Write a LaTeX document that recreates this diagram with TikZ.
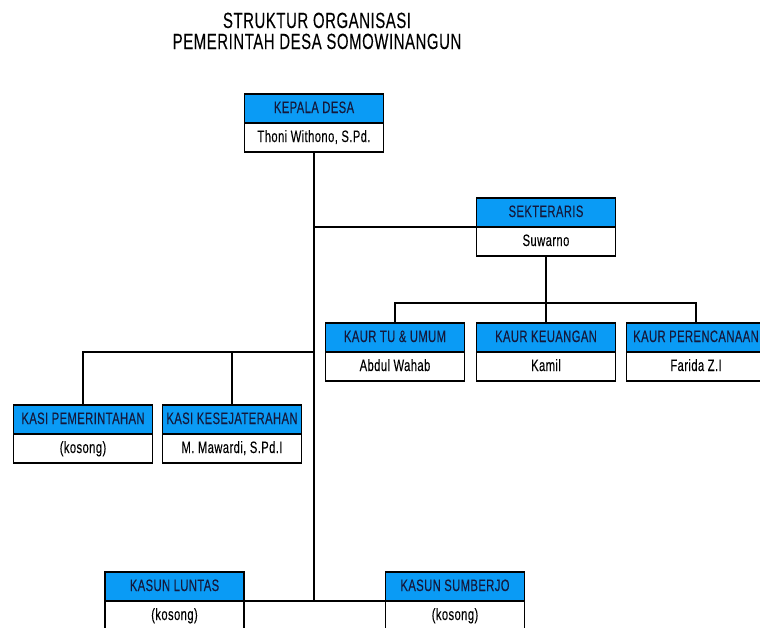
\documentclass[tikz,border=0pt]{standalone}
\usepackage{fontspec}
\setmainfont{Liberation Sans}[FakeStretch=0.68, LetterSpace=2.5, FakeBold=0.12]
\definecolor{hdr}{RGB}{10,155,245}
\definecolor{hdrtext}{RGB}{20,25,60}
\tikzset{
 hbox/.style={draw=black, line width=1.8pt, fill=hdr, minimum width=139pt, minimum height=29pt,
   inner sep=0pt, outer sep=0pt, text height=12pt, text depth=3pt,
   font=\fontsize{16.5}{18}\selectfont, text=hdrtext},
 bbox/.style={hbox, fill=white, text=black},
 conn/.style={line width=1.8pt, draw=black},
 ttl/.style={font=\fontsize{22}{26}\selectfont, anchor=base}
}
\newcommand\orgunit[5]{%
 \node[hbox] (#1-h) at (#2, #3+14.5) {#4};
 \node[bbox, anchor=north] (#1-b) at (#1-h.south) {#5};}
\begin{document}
\begin{tikzpicture}[x=1pt,y=-1pt]
\useasboundingbox (0,0) rectangle (760,627);
\clip (0,0) rectangle (760,627);
\node[ttl] (t1) at (317,28) {STRUKTUR ORGANISASI};
\node[ttl] (t2) at (317,49) {PEMERINTAH DESA SOMOWINANGUN};
\orgunit{kep}{314}{94}{KEPALA DESA}{Thoni Withono, S.Pd.}
\orgunit{sek}{546}{198}{SEKTERARIS}{Suwarno}
\orgunit{tu}{395}{323}{KAUR TU \& UMUM}{Abdul Wahab}
\orgunit{keu}{546}{323}{KAUR KEUANGAN}{Kamil}
\orgunit{per}{696}{323}{KAUR PERENCANAAN}{Farida Z.I}
\orgunit{pem}{83}{405}{KASI PEMERINTAHAN}{(kosong)}
\orgunit{kes}{232}{405}{KASI KESEJATERAHAN}{M. Mawardi, S.Pd.I}
\orgunit{lun}{174.5}{572}{KASUN LUNTAS}{(kosong)}
\orgunit{sum}{455}{572}{KASUN SUMBERJO}{(kosong)}
\coordinate (kasibus) at (314,352);
\coordinate (kaurbus) at (546,303);
\draw[conn] (kep-b.south) -- (kep-b.south |- lun-h.south east);
\draw[conn] (lun-h.south east) -- (sum-h.south west);
\draw[conn] (kep-b.south |- sek-h.south west) -- (sek-h.south west);
\draw[conn] (sek-b.south) -- (keu-h.north);
\draw[conn] (tu-h.north) |- (kaurbus) -| (per-h.north);
\draw[conn] (pem-h.north) |- (kasibus);
\draw[conn] (kes-h.north) -- (kes-h.north |- kasibus);
\end{tikzpicture}
\end{document}
